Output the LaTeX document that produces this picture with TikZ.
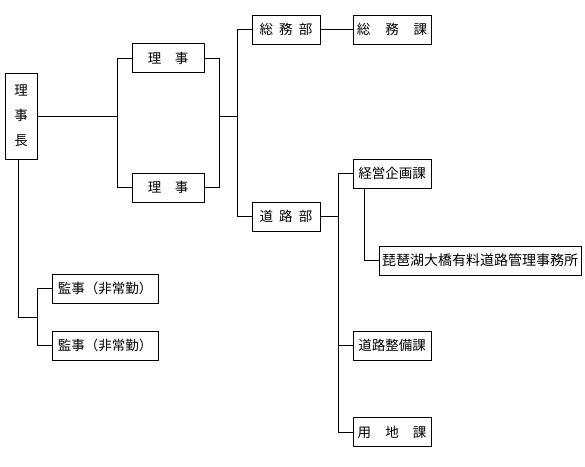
\documentclass[tikz,border=0pt]{standalone}
\usepackage{fontspec}
\setmainfont{Noto Sans CJK JP}
\begin{document}
\begin{tikzpicture}[x=1pt,y=-1pt,
  box/.style={draw=black,line width=0.9pt,inner sep=0pt,minimum height=29pt,font=\fontsize{13.5}{16}\selectfont},
  conn/.style={draw=black,line width=0.8pt}]
\useasboundingbox (0,0) rectangle (585,466);
\node[box,minimum width=32pt,minimum height=86pt,align=center,font=\fontsize{13.5}{25}\selectfont] (chair) at (21,116) {理\\事\\長};
\node[box,minimum width=72pt] (riji1) at (168,58) {理\hspace{1em}事};
\node[box,minimum width=72pt] (riji2) at (168,187.5) {理\hspace{1em}事};
\node[box,minimum width=68pt] (somubu) at (286,29.5) {総\hspace{0.45em}務\hspace{0.45em}部};
\node[box,minimum width=78pt] (somuka) at (392,29.5) {総\hspace{1.1em}務\hspace{1.1em}課};
\node[box,minimum width=68pt] (dorobu) at (286,216.5) {道\hspace{0.45em}路\hspace{0.45em}部};
\node[box,minimum width=78pt] (keiei) at (392,173.5) {経営企画課};
\node[box,minimum width=202pt,font=\fontsize{14}{16}\selectfont] (biwako) at (480,260.5) {琵琶湖大橋有料道路管理事務所};
\node[box,minimum width=78pt] (seibi) at (392,345.5) {道路整備課};
\node[box,minimum width=78pt] (yochi) at (392,432) {用\hspace{1.05em}地\hspace{1.05em}課};
\node[box,minimum width=106pt] (kanji1) at (105,288.5) {監事（非常勤）};
\node[box,minimum width=106pt] (kanji2) at (105,345.5) {監事（非常勤）};
\coordinate (j1) at (117,116);
\coordinate (j2) at (219,116);
\coordinate (j3) at (237,116);
\coordinate (j4) at (338,216.5);
\coordinate (j5) at (37,317);
\draw[conn] (chair.east) -- (j1);
\draw[conn] (riji1.west) -| (j1);
\draw[conn] (riji2.west) -| (j1);
\draw[conn] (riji1.east) -| (j2);
\draw[conn] (riji2.east) -| (j2);
\draw[conn] (j2) -- (j3);
\draw[conn] (somubu.west) -| (j3);
\draw[conn] (dorobu.west) -| (j3);
\draw[conn] (somubu.east) -- (somuka.west);
\draw[conn] (dorobu.east) -- (j4);
\draw[conn] (keiei.west) -| (j4);
\draw[conn] (yochi.west) -| (j4);
\draw[conn] (seibi.west) -- (seibi.west -| j4);
\draw[conn] ([xshift=12pt]keiei.south west) |- (biwako.west);
\draw[conn] ([xshift=-3pt]chair.south) |- (j5);
\draw[conn] (kanji1.west) -| (j5);
\draw[conn] (kanji2.west) -| (j5);
\end{tikzpicture}
\end{document}
